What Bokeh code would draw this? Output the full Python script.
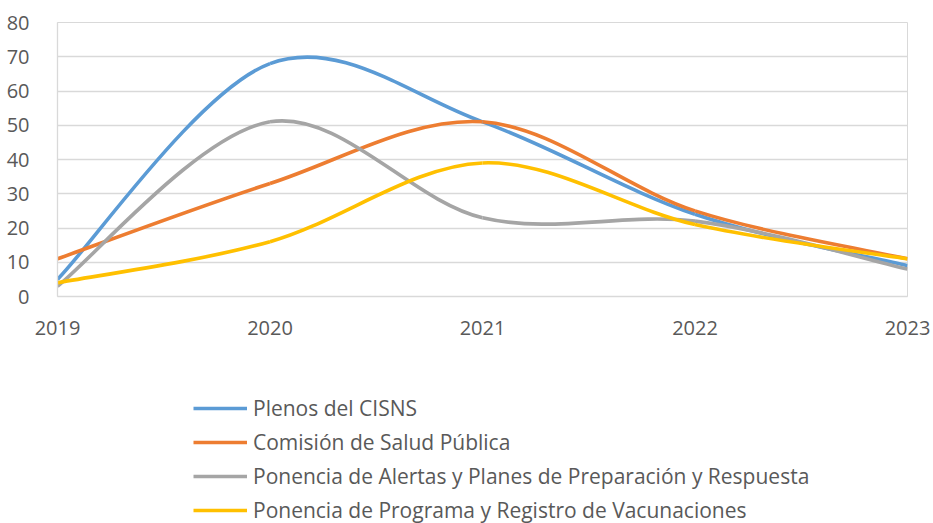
from bokeh.plotting import figure
from bokeh.layouts import column
from bokeh.models import Range1d, FixedTicker, Legend, LegendItem, ColumnDataSource
from bokeh.embed import file_html
from bokeh.resources import INLINE

years = [2019, 2020, 2021, 2022, 2023]
plenos = [5, 68, 51, 24, 9]
comision = [11, 33, 51, 25, 11]
alertas = [3, 51, 23, 22, 8]
vacunas = [4, 16, 39, 21, 11]

series_names = [
    "Plenos del CISNS",
    "Comisión de Salud Pública",
    "Ponencia de Alertas y Planes de Preparación y Respuesta",
    "Ponencia de Programa y Registro de Vacunaciones",
]
series_values = [plenos, comision, alertas, vacunas]
colors = ["#5B9BD5", "#ED7D31", "#A5A5A5", "#FFC000"]

FONT = "Open Sans"
TXT = "#595959"
LW = 3.6


def smooth_segments(xs, ys):
    """Bezier segments through the points (Catmull-Rom style, like spreadsheet smoothing)."""
    n = len(xs)
    d = dict(x0=[], y0=[], x1=[], y1=[], cx0=[], cy0=[], cx1=[], cy1=[])
    for i in range(n - 1):
        xa, ya = xs[max(i - 1, 0)], ys[max(i - 1, 0)]
        xb, yb = xs[i], ys[i]
        xc, yc = xs[i + 1], ys[i + 1]
        xd, yd = xs[min(i + 2, n - 1)], ys[min(i + 2, n - 1)]
        d["x0"].append(xb); d["y0"].append(yb)
        d["x1"].append(xc); d["y1"].append(yc)
        d["cx0"].append(xb + (xc - xa) / 6); d["cy0"].append(yb + (yc - ya) / 6)
        d["cx1"].append(xc - (xd - xb) / 6); d["cy1"].append(yc - (yd - yb) / 6)
    return d


p = figure(frame_width=850, frame_height=274, output_backend="svg", toolbar_location=None,
           x_range=Range1d(2019, 2023), y_range=Range1d(0, 80),
           min_border_left=57, min_border_right=26, min_border_top=22, min_border_bottom=74)

p.outline_line_color = "#D9D9D9"
p.outline_line_width = 1
p.background_fill_color = "white"
p.border_fill_color = "white"

p.xgrid.visible = False
p.ygrid.grid_line_color = "#D9D9D9"
p.ygrid.grid_line_width = 1.3

p.yaxis.ticker = FixedTicker(ticks=list(range(0, 81, 10)))
p.xaxis.ticker = FixedTicker(ticks=years)
for ax in (p.xaxis[0], p.yaxis[0]):
    ax.major_label_text_font = FONT
    ax.major_label_text_font_size = "20px"
    ax.major_label_text_color = TXT
    ax.major_tick_line_color = None
    ax.minor_tick_line_color = None
    ax.axis_line_color = "#D9D9D9"
    ax.axis_line_width = 1.3
p.xaxis.major_label_standoff = 18
p.yaxis.major_label_standoff = 22

for vals, col in zip(series_values, colors):
    src = ColumnDataSource(smooth_segments(years, vals))
    p.bezier(x0="x0", y0="y0", x1="x1", y1="y1", cx0="cx0", cy0="cy0",
             cx1="cx1", cy1="cy1", source=src, line_color=col, line_width=LW)

# legend strip below the chart
lg = figure(width=933, height=153, output_backend="svg", toolbar_location=None,
            x_range=Range1d(2019, 2023), y_range=Range1d(0, 80),
            min_border_left=0, min_border_right=0, min_border_top=0, min_border_bottom=0)
lg.axis.visible = False
lg.grid.visible = False
lg.outline_line_color = None
items = []
for name, vals, col in zip(series_names, series_values, colors):
    # single-point line: draws nothing itself, only provides the legend swatch
    r = lg.line(x=years[:1], y=vals[:1], line_color=col, line_width=LW)
    items.append(LegendItem(label=name, renderers=[r]))

legend = Legend(items=items, orientation="vertical",
                label_text_font=FONT, label_text_font_size="21px", label_text_color=TXT,
                glyph_width=54, glyph_height=28, label_height=28, label_standoff=6,
                spacing=6, border_line_color=None, background_fill_alpha=0,
                padding=0, margin=0)
legend.location = (136, -1)
lg.add_layout(legend, "center")

layout = column(p, lg, spacing=0)
open("out.html", "w").write(file_html(layout, INLINE))
